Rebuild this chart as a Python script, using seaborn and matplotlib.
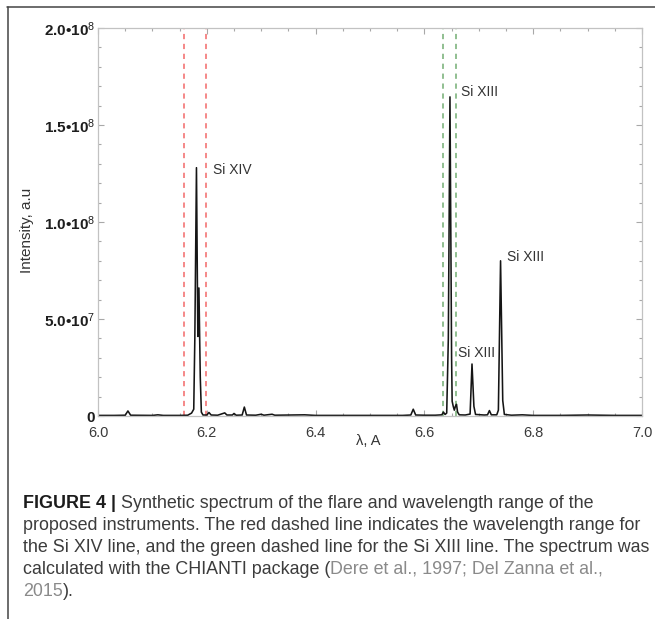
import numpy as np
import pandas as pd
import matplotlib
matplotlib.use("Agg")
import matplotlib.pyplot as plt
from matplotlib.lines import Line2D
from matplotlib.ticker import MultipleLocator
import seaborn as sns

# ---------------- data ----------------
wavelength_A = [
    6.000, 6.030, 6.050, 6.055, 6.060, 6.100, 6.110, 6.120, 6.150, 6.165,
    6.172, 6.176, 6.178, 6.181, 6.1835, 6.1855, 6.188, 6.190, 6.193, 6.200,
    6.204, 6.208, 6.220, 6.233, 6.237, 6.247, 6.250, 6.254, 6.265, 6.269,
    6.273, 6.290, 6.300, 6.305, 6.320, 6.325, 6.380, 6.400, 6.500, 6.560,
    6.575, 6.5795, 6.584, 6.600, 6.620, 6.632, 6.635, 6.638, 6.641, 6.644,
    6.647, 6.650, 6.651, 6.653, 6.655, 6.657, 6.659, 6.661, 6.664, 6.675,
    6.684, 6.6875, 6.691, 6.694, 6.710, 6.716, 6.7195, 6.723, 6.733, 6.736,
    6.740, 6.744, 6.747, 6.760, 6.780, 6.800, 6.850, 6.900, 6.950, 7.000,
]
intensity_1e6 = [
    0.3, 0.3, 0.4, 2.6, 0.4, 0.3, 0.6, 0.3, 0.3, 0.4,
    1.5, 3.5, 40.0, 128.0, 41.0, 66.0, 20.0, 2.0, 0.5, 0.5,
    1.8, 0.5, 0.4, 1.6, 0.5, 0.5, 1.3, 0.4, 0.5, 4.6,
    0.5, 0.4, 0.9, 0.4, 0.9, 0.4, 0.6, 0.3, 0.3, 0.3,
    0.5, 3.5, 0.5, 0.4, 0.4, 0.6, 2.0, 0.8, 1.5, 40.0,
    164.5, 30.0, 7.6, 5.0, 3.0, 5.0, 6.0, 2.0, 0.6, 0.5,
    1.0, 26.8, 5.0, 0.8, 0.5, 0.6, 2.8, 0.6, 0.6, 3.0,
    80.0, 8.0, 0.8, 0.4, 0.6, 0.3, 0.3, 0.5, 0.3, 0.3,
]
si14_range_A = [6.158, 6.199]
si13_range_A = [6.635, 6.659]

line_labels = ["Si XIV", "Si XIII", "Si XIII", "Si XIII"]
label_x_A = [6.211, 6.668, 6.662, 6.751]
label_y = [1.268e8, 1.67e8, 3.25e7, 8.2e7]

y_ticks = [0, 5e7, 1e8, 1.5e8, 2e8]
y_tick_labels = ["0", "5.0\u202210$^{7}$", "1.0\u202210$^{8}$",
                 "1.5\u202210$^{8}$", "2.0\u202210$^{8}$"]
x_ticks = [6.0, 6.2, 6.4, 6.6, 6.8, 7.0]
x_tick_labels = ["6.0", "6.2", "6.4", "6.6", "6.8", "7.0"]

x_title = "\u03bb, A"
y_title = "Intensity, a.u"

caption_lines = [
    [("FIGURE 4 |", "bold"), (" Synthetic spectrum of the flare and wavelength range of the", "normal")],
    [("proposed instruments. The red dashed line indicates the wavelength range for", "normal")],
    [("the Si XIV line, and the green dashed line for the Si XIII line. The spectrum was", "normal")],
    [("calculated with the CHIANTI package (", "normal"), ("Dere et al., 1997; Del Zanna et al.,", "cite")],
    [("2015", "cite"), (").", "normal")],
]

# ---------------- style ----------------
sns.set_style("white")
plt.rcParams["font.family"] = ["Liberation Sans", "DejaVu Sans"]
plt.rcParams["mathtext.fontset"] = "custom"
plt.rcParams["mathtext.rm"] = "Liberation Sans"
plt.rcParams["mathtext.it"] = "Liberation Sans:italic"
plt.rcParams["mathtext.bf"] = "Liberation Sans:bold"

W, H = 655, 619
fig = plt.figure(figsize=(W / 100, H / 100), dpi=100)
fig.patch.set_facecolor("white")
ax = fig.add_axes([98 / W, 1 - 416 / H, (642 - 98) / W, (416 - 28) / H])

df = pd.DataFrame({"wavelength": wavelength_A,
                   "intensity": np.array(intensity_1e6) * 1e6})
sns.lineplot(data=df, x="wavelength", y="intensity", ax=ax, color="#151515",
             lw=1.15, estimator=None, sort=False)

for xv in si14_range_A:
    ax.axvline(xv, color="#f58888", lw=1.4, ls=(0, (2.7, 2.4)), zorder=1)
for xv in si13_range_A:
    ax.axvline(xv, color="#90bf90", lw=1.4, ls=(0, (2.7, 2.4)), zorder=1)

for s, xv, yv in zip(line_labels, label_x_A, label_y):
    ax.text(xv, yv, s, fontsize=10, color="#333333", ha="left", va="center")

ax.set_xlim(6.0, 7.0)
ax.set_ylim(0, 2e8)
ax.set_xticks(x_ticks, labels=x_tick_labels)
ax.set_yticks(y_ticks, labels=y_tick_labels)
ax.xaxis.set_minor_locator(MultipleLocator(0.05))
ax.yaxis.set_minor_locator(MultipleLocator(1e7))

for sp in ax.spines.values():
    sp.set_visible(True)
    sp.set_color("#c2c2c2")
    sp.set_linewidth(0.9)

ax.tick_params(which="both", direction="in", top=True, right=True,
               bottom=True, left=True, color="#a8a8a8", width=0.8)
ax.tick_params(which="major", length=4.3)
ax.tick_params(which="minor", length=2.5)
ax.tick_params(axis="y", which="major", pad=2.2, labelsize=11, labelcolor="#1e1e1e")
ax.tick_params(axis="x", which="major", pad=7, labelsize=10.5, labelcolor="#3a3a3a")
for lab in ax.get_yticklabels():
    lab.set_fontweight("bold")

ax.set_xlabel(x_title, fontsize=10.5, color="#333333")
ax.set_ylabel(y_title, fontsize=11, color="#333333")
ax.xaxis.label.set_va("center")
ax.xaxis.set_label_coords((368 - 98) / 544, (416 - 441) / 388)
ax.yaxis.label.set_va("center")
ax.yaxis.set_label_coords((27 - 98) / 544, (416 - 230) / 388)

# page frame lines (top and left)
fig.add_artist(Line2D([7 / W, 1.0], [1 - 7 / H, 1 - 7 / H], transform=fig.transFigure,
                      color="#444444", lw=1.1))
fig.add_artist(Line2D([7.5 / W, 7.5 / W], [0.0, 1 - 7 / H], transform=fig.transFigure,
                      color="#444444", lw=1.1))

# ---------------- caption ----------------
fig.canvas.draw()
renderer = fig.canvas.get_renderer()

def width_px(s, fs, weight="normal"):
    t = fig.text(0, 0, s, fontsize=fs, fontweight=weight)
    w = t.get_window_extent(renderer).width
    t.remove()
    return w

base_fs = 12.0
target = 620.0
cap_fs = base_fs * target / width_px(caption_lines[1][0][0], base_fs)
space_w = width_px("a a", cap_fs) - width_px("aa", cap_fs)

colors = {"bold": "#1c1c1c", "normal": "#3c3c3c", "cite": "#8a8a8a"}
x0 = 22.7
base0 = 508.0
step = 22.0
for i, segs in enumerate(caption_lines):
    x = x0
    yb = base0 + i * step
    for s, kind in segs:
        lead = 0.0
        if s.startswith(" "):
            lead = space_w
            s = s.lstrip(" ")
        x += lead
        weight = "bold" if kind == "bold" else "normal"
        t = fig.text(x / W, 1 - yb / H, s, fontsize=cap_fs, fontweight=weight,
                     color=colors[kind], ha="left", va="baseline")
        x += t.get_window_extent(renderer).width

fig.savefig("out.png", dpi=100, facecolor="white")
